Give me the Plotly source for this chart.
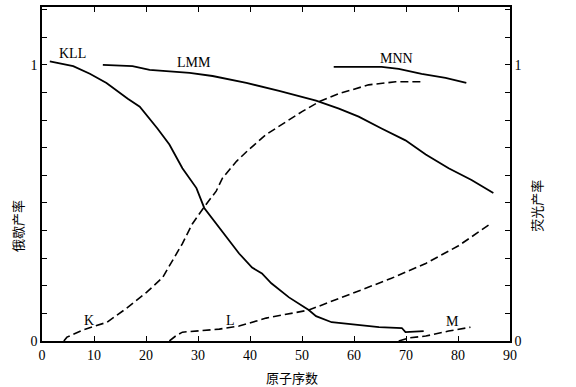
import plotly.graph_objects as go

# Auger yields (solid lines, left axis)
kll_x = [1.5, 6.0, 9.2, 12.4, 16.5, 18.8, 22.2, 24.5, 27.0, 29.7, 31.2, 34.1, 37.9, 40.4, 42.3, 44.1, 47.5, 51.3, 52.7, 55.7, 60.3, 64.8, 69.2, 69.9, 73.4]
kll_y = [1.013, 0.996, 0.968, 0.935, 0.878, 0.849, 0.770, 0.712, 0.626, 0.554, 0.482, 0.410, 0.317, 0.266, 0.245, 0.209, 0.158, 0.112, 0.090, 0.068, 0.058, 0.050, 0.047, 0.032, 0.036]

lmm_x = [11.7, 17.4, 20.7, 28.4, 32.8, 39.3, 45.6, 52.7, 57.1, 60.9, 65.3, 69.9, 73.8, 78.2, 82.6, 86.8]
lmm_y = [1.000, 0.996, 0.982, 0.971, 0.960, 0.935, 0.906, 0.871, 0.842, 0.813, 0.770, 0.727, 0.676, 0.626, 0.583, 0.536]

mnn_x = [56.1, 65.3, 68.6, 73.0, 77.6, 81.6]
mnn_y = [0.993, 0.993, 0.986, 0.968, 0.953, 0.935]

# Fluorescence yields (dashed lines, right axis)
k_x = [4.2, 4.8, 7.9, 12.5, 16.3, 20.1, 23.2, 25.1, 27.0, 28.9, 31.2, 33.5, 34.7, 37.4, 39.8, 43.1, 46.9, 50.0, 53.3, 57.1, 62.8, 68.0, 73.4]
k_y = [0.0, 0.014, 0.040, 0.068, 0.119, 0.176, 0.230, 0.291, 0.353, 0.424, 0.486, 0.543, 0.590, 0.651, 0.694, 0.748, 0.795, 0.831, 0.867, 0.896, 0.928, 0.939, 0.939]

l_x = [24.5, 25.7, 27.0, 30.3, 34.1, 37.9, 43.1, 51.3, 57.7, 60.9, 67.2, 73.8, 80.1, 86.2]
l_y = [0.0, 0.018, 0.032, 0.036, 0.043, 0.054, 0.083, 0.112, 0.158, 0.183, 0.227, 0.281, 0.345, 0.424]

m_x = [68.6, 70.5, 73.8, 78.2, 82.4]
m_y = [0.0, 0.011, 0.018, 0.036, 0.050]

x_ticks = [0, 10, 20, 30, 40, 50, 60, 70, 80, 90]
y_ticks = [0, 0.1, 0.2, 0.3, 0.4, 0.5, 0.6, 0.7, 0.8, 0.9, 1.0, 1.1, 1.2]
y_ticktext = ["0", "", "", "", "", "", "", "", "", "", "1", "", ""]

curve_labels = ["KLL", "LMM", "MNN", "K", "L", "M"]
label_x = [5.9, 29.3, 68.2, 9.0, 36.2, 78.9]
label_y = [1.04, 1.01, 1.025, 0.076, 0.076, 0.072]

SERIF = "Liberation Serif"
CJK = "Noto Sans CJK SC"

fig = go.Figure()
solid = dict(color="black", width=1.8)
dashed = dict(color="black", width=1.6, dash="8px,4px")
fig.add_trace(go.Scatter(x=kll_x, y=kll_y, mode="lines", line=solid))
fig.add_trace(go.Scatter(x=lmm_x, y=lmm_y, mode="lines", line=solid))
fig.add_trace(go.Scatter(x=mnn_x, y=mnn_y, mode="lines", line=solid))
fig.add_trace(go.Scatter(x=k_x, y=k_y, mode="lines", line=dashed, yaxis="y2"))
fig.add_trace(go.Scatter(x=l_x, y=l_y, mode="lines", line=dashed, yaxis="y2"))
fig.add_trace(go.Scatter(x=m_x, y=m_y, mode="lines", line=dashed, yaxis="y2"))

for t, lx, ly in zip(curve_labels, label_x, label_y):
    fig.add_annotation(x=lx, y=ly, text=t, showarrow=False,
                       font=dict(family=SERIF, size=14, color="black"))

fig.add_annotation(xref="paper", yref="paper", x=-0.051, y=0.345, text="俄歇产率",
                   xanchor="center", yanchor="middle",
                   textangle=-90, showarrow=False, font=dict(family=CJK, size=13, color="black"))
fig.add_annotation(xref="paper", yref="paper", x=1.058, y=0.405, text="荧光产率",
                   xanchor="center", yanchor="middle",
                   textangle=-90, showarrow=False, font=dict(family=CJK, size=13, color="black"))
fig.add_annotation(xref="paper", yref="paper", x=0.535, y=-0.11, text="原子序数",
                   xanchor="center", yanchor="middle",
                   showarrow=False, font=dict(family=CJK, size=13, color="black"))

axis_common = dict(showgrid=False, zeroline=False, linecolor="black", linewidth=1.5,
                   ticks="inside", ticklen=5, tickcolor="black",
                   tickfont=dict(family=SERIF, size=14, color="black"))

fig.update_layout(
    width=576, height=387,
    margin=dict(l=42, r=66, t=5, b=46),
    paper_bgcolor="white", plot_bgcolor="white",
    showlegend=False,
    xaxis=dict(range=[0, 90], tickvals=x_ticks, showline=True, mirror="ticks", **axis_common),
    yaxis=dict(range=[0, 1.21], tickvals=y_ticks, ticktext=y_ticktext, showline=True, **axis_common),
    yaxis2=dict(range=[0, 1.21], tickvals=y_ticks, ticktext=y_ticktext, overlaying="y", side="right",
                anchor="x", showline=True, **axis_common),
)

fig.write_html("out.html", config={"displayModeBar": False},
               post_script="document.body.style.margin='0';document.body.style.overflow='hidden';")
